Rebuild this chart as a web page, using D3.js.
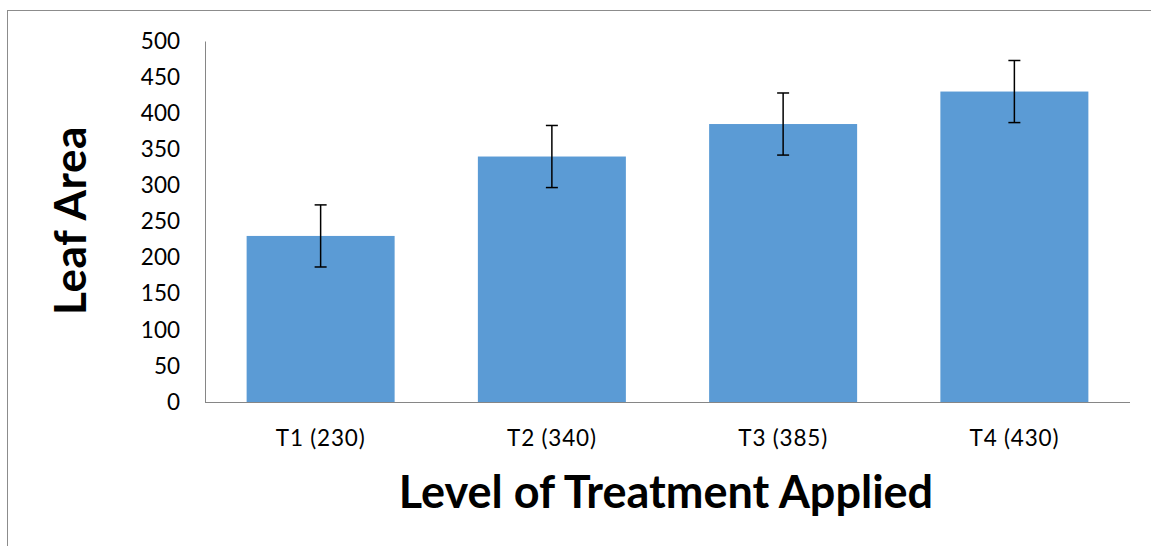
<!DOCTYPE html>
<html><head><meta charset="utf-8">
<script src="https://cdn.jsdelivr.net/npm/d3@7"></script>
<style>body{margin:0;background:#fff}svg{display:block}</style>
</head><body>
<script>
const categories = ["T1 (230)", "T2 (340)", "T3 (385)", "T4 (430)"];
const values = [230, 340, 385, 430];
const errors = [43, 43, 43, 43];
const yTicks = [0, 50, 100, 150, 200, 250, 300, 350, 400, 450, 500];
const xTitle = "Level of Treatment Applied";
const yTitle = "Leaf Area";

const W = 1151, H = 546;
const svg = d3.select("body").append("svg").attr("width", W).attr("height", H);
svg.append("rect").attr("x", 7.5).attr("y", 10.5).attr("width", W).attr("height", H)
  .attr("fill", "#fff").attr("stroke", "#8c8c8c").attr("stroke-width", 1);

const pLeft = 205, pRight = 1130, pTop = 41, pBottom = 402;
const x = d3.scaleBand().domain(categories).range([pLeft, pRight]).paddingInner(0.36).paddingOuter(0.18);
const y = d3.scaleLinear().domain([0, 500]).range([pBottom, pTop]);
const font = "Lato, 'Open Sans', sans-serif";

const yAxis = svg.append("g").attr("transform", `translate(${pLeft},0)`)
  .call(d3.axisLeft(y).tickValues(yTicks).tickSize(0).tickPadding(25));
yAxis.select(".domain").attr("stroke", "#868686");
yAxis.selectAll("text").attr("font-family", font).attr("font-size", 22.5).attr("fill", "#000");

svg.selectAll(".bar").data(values).enter().append("rect")
  .attr("x", (d, i) => x(categories[i])).attr("width", x.bandwidth())
  .attr("y", d => y(d)).attr("height", d => pBottom - y(d))
  .attr("fill", "#5b9bd5");

const xAxis = svg.append("g").attr("transform", `translate(0,${pBottom})`)
  .call(d3.axisBottom(x).tickSize(0).tickPadding(28));
xAxis.select(".domain").attr("stroke", "#868686").attr("d", `M${pLeft},0.5H${pRight}`);
xAxis.selectAll("text").attr("font-family", font).attr("font-size", 22.5)
  .attr("letter-spacing", 0.8).attr("fill", "#000");

const eb = svg.append("g").attr("stroke", "#000").attr("stroke-width", 1.5);
values.forEach((v, i) => {
  const cx = x(categories[i]) + x.bandwidth() / 2;
  eb.append("line").attr("x1", cx).attr("x2", cx).attr("y1", y(v + errors[i])).attr("y2", y(v - errors[i]));
  [v + errors[i], v - errors[i]].forEach(e => {
    eb.append("line").attr("x1", cx - 6).attr("x2", cx + 6).attr("y1", y(e)).attr("y2", y(e));
  });
});

svg.append("text").attr("x", 666).attr("y", 508).attr("text-anchor", "middle")
  .attr("font-family", font).attr("font-weight", "bold").attr("font-size", 45).text(xTitle);
svg.append("text").attr("transform", "translate(86,220.5) rotate(-90)").attr("text-anchor", "middle")
  .attr("font-family", font).attr("font-weight", "bold").attr("font-size", 44)
  .attr("letter-spacing", 0.6).text(yTitle);
</script>
</body></html>
